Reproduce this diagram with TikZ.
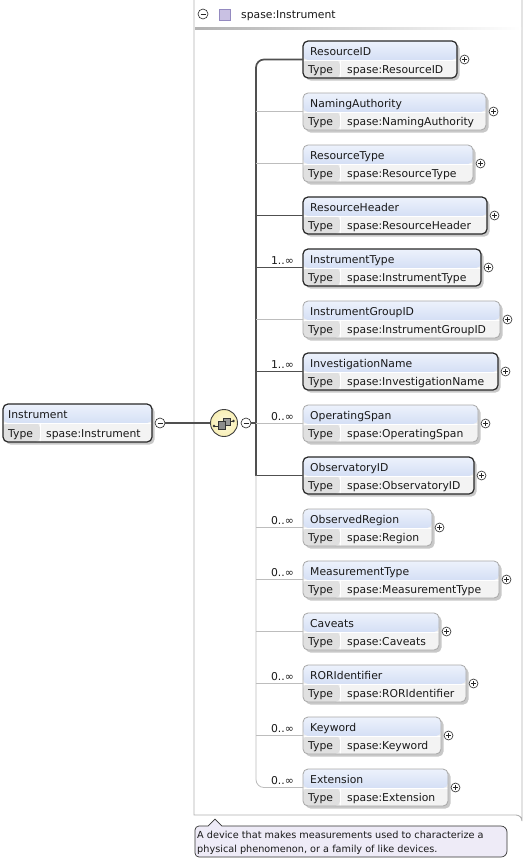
\documentclass[tikz,border=0pt]{standalone}
\usepackage{fontspec}
\setmainfont{DejaVu Sans}
\usetikzlibrary{calc}
\definecolor{hdtop}{HTML}{EDF2FC}
\definecolor{hdbot}{HTML}{BDCEEE}
\definecolor{rowL}{HTML}{E0E0E0}
\definecolor{rowR}{HTML}{F3F3F3}
\definecolor{darkb}{HTML}{282828}
\definecolor{lightb}{HTML}{A8A8A8}
\definecolor{thinc}{HTML}{BDBDBD}
\definecolor{thickc}{HTML}{505050}
\definecolor{contb}{HTML}{B0B0B0}
\definecolor{shad}{HTML}{C8C8C8}
\definecolor{annf}{HTML}{EEEBF7}
\definecolor{seqf}{HTML}{F8EFB4}
\definecolor{lav}{HTML}{C9C1E3}
\definecolor{lavb}{HTML}{948AC0}
\newcommand{\ftx}{\fontsize{10.8}{13}\selectfont}
\newcommand{\fta}{\fontsize{9.7}{12}\selectfont}
\newcommand{\pbc}{path picture bounding box.center}
\tikzset{
 elbox/.style={rounded corners=5pt, minimum height=37pt, inner sep=0pt, outer sep=0pt, anchor=north west, fill=rowR,
   path picture={
     \fill[top color=hdtop, bottom color=hdbot] (path picture bounding box.north west) rectangle ([yshift=-19pt]path picture bounding box.north east);
     \fill[rowL] ([yshift=-19pt]path picture bounding box.north west) rectangle ([xshift=37pt]path picture bounding box.south west);
     \draw[white, line width=0.9pt] ([yshift=-19pt]path picture bounding box.north west) -- ([yshift=-19pt]path picture bounding box.north east);
     \draw[white, line width=0.9pt] ([xshift=37pt,yshift=-19pt]path picture bounding box.north west) -- ([xshift=37pt]path picture bounding box.south west);
   }},
 mand/.style={elbox, draw=darkb, line width=1.2pt},
 opt/.style={elbox, draw=lightb, line width=0.8pt},
 txt/.style={font=\ftx, inner sep=0pt, anchor=base west, text=black!90},
 card/.style={font=\ftx, inner sep=0pt, anchor=base east, text=black!90},
 anntxt/.style={font=\fta, inner sep=0pt, anchor=base west, text=black!90},
 plusc/.style={circle, draw=black!85, fill=white, minimum size=9pt, inner sep=0pt, line width=0.6pt,
   path picture={\draw[line width=0.6pt] ([xshift=-2.3pt]\pbc) -- ([xshift=2.3pt]\pbc);
                 \draw[line width=0.6pt] ([yshift=-2.3pt]\pbc) -- ([yshift=2.3pt]\pbc);}},
 minusc/.style={circle, draw=black!85, fill=white, minimum size=10pt, inner sep=0pt, line width=0.6pt,
   path picture={\draw[line width=0.7pt] ([xshift=-2.5pt]\pbc) -- ([xshift=2.5pt]\pbc);}},
 thk/.style={draw=thickc, line width=1.7pt},
 thn/.style={draw=thinc, line width=0.8pt},
}
\newcommand{\elem}[7]{%
 \fill[shad, rounded corners=5pt] (305.5,#2+2.5) rectangle (305.5+#3,#2+39.5);
 \node[#6, minimum width=#3pt] (#1) at (303,#2) {};
 \node[txt] (#1t) at (310,#2+14.5) {#4};
 \node[txt] (#1k) at (308,#2+32.5) {Type};
 \node[txt] (#1v) at (347,#2+32.5) {#5};
 \node[plusc] (#1p) at ($(#1.east)+(7.5pt,0pt)$) {};
 \if\relax\detokenize{#7}\relax\else\node[card] (#1c) at (294,#2+15) {#7};\fi
}
\begin{document}
\begin{tikzpicture}[x=1pt,y=-1pt]
\useasboundingbox (0,0) rectangle (525,862);
\fill[white] (0,0) rectangle (525,862);
% container
\draw[contb, line width=0.9pt] (194,-2) -- (194,815) -- (516,815) arc[start angle=-90,end angle=0,radius=6] -- (522,-2);
\fill[left color=black!30, right color=white] (195,27) rectangle (521,29.5);
\node[minusc] (hm) at (203,14) {};
\node[draw=lavb, fill=lav, minimum size=11pt, inner sep=0pt, line width=0.5pt] (hsq) at (224.5,14.5) {};
\node[txt] (htxt) at (241,18.5) {spase:Instrument};
% elements
\elem{rid}{41}{154}{ResourceID}{spase:ResourceID}{mand}{}
\elem{nauth}{93}{183}{NamingAuthority}{spase:NamingAuthority}{opt}{}
\elem{rtype}{145}{170}{ResourceType}{spase:ResourceType}{opt}{}
\elem{rhead}{197}{184}{ResourceHeader}{spase:ResourceHeader}{mand}{}
\elem{itype}{249}{178}{InstrumentType}{spase:InstrumentType}{mand}{1..∞}
\elem{igid}{301}{197}{InstrumentGroupID}{spase:InstrumentGroupID}{opt}{}
\elem{iname}{353}{195}{InvestigationName}{spase:InvestigationName}{mand}{1..∞}
\elem{ospan}{405}{175}{OperatingSpan}{spase:OperatingSpan}{opt}{0..∞}
\elem{obs}{457}{171}{ObservatoryID}{spase:ObservatoryID}{mand}{}
\elem{oreg}{509}{129}{ObservedRegion}{spase:Region}{opt}{0..∞}
\elem{mtype}{561}{196}{MeasurementType}{spase:MeasurementType}{opt}{0..∞}
\elem{cav}{613}{136}{Caveats}{spase:Caveats}{opt}{}
\elem{ror}{665}{163}{RORIdentifier}{spase:RORIdentifier}{opt}{0..∞}
\elem{kw}{717}{138}{Keyword}{spase:Keyword}{opt}{0..∞}
\elem{ext}{769}{145}{Extension}{spase:Extension}{opt}{0..∞}
% left element
\fill[shad, rounded corners=5pt] (5.5,406.5) rectangle (154.5,444.5);
\node[mand, minimum width=149pt, minimum height=38pt] (instr) at (3,404) {};
\node[txt] (instrt) at (8,418) {Instrument};
\node[txt] (instrk) at (8,437) {Type};
\node[txt] (instrv) at (46,437) {spase:Instrument};
\node[minusc] (m1) at (160,423) {};
% sequence compositor
\node[circle, draw=black!75, line width=0.9pt, inner color=white!60!seqf, outer color=seqf, minimum size=27pt, inner sep=0pt,
  path picture={
   \draw[black!80, line width=0.7pt] ($(\pbc)+(-10pt,-3pt)$) -- ($(\pbc)+(-5pt,-3pt)$);
   \draw[black!80, line width=0.7pt] ($(\pbc)+(5pt,2pt)$) -- ($(\pbc)+(9pt,2pt)$);
   \fill[black!80] ($(\pbc)+(-10pt,-3pt)$) circle[radius=1.3pt];
   \fill[black!80] ($(\pbc)+(9.5pt,2pt)$) circle[radius=1.3pt];
   \draw[black!80, fill=black!40, line width=0.6pt] ($(\pbc)+(-1pt,-2pt)$) rectangle ($(\pbc)+(6pt,5pt)$);
   \draw[black!80, fill=black!45, line width=0.6pt] ($(\pbc)+(-6pt,-6pt)$) rectangle ($(\pbc)+(1.5pt,1.5pt)$);
  }] (seq) at (224,423) {};
\node[minusc] (m2) at (246,423) {};
\coordinate (sp) at (256,423);
% connectors
\draw[thk] (m1) -- (seq);
\draw[thk] (m2) -- (sp);
\draw[thk, rounded corners=8pt] (rid.west) -| (sp);
\draw[thk] (sp) |- (obs.west);
\draw[thn, rounded corners=8pt] (obs.west -| sp) |- (ext.west);
\foreach \n in {rhead,itype,iname}{\draw[thk] (\n.west) -- (\n.west -| sp);}
\foreach \n in {nauth,rtype,igid,ospan,oreg,mtype,cav,ror,kw}{\draw[thn] (\n.west) -- (\n.west -| sp);}
% annotation
\draw[black!80, fill=annf, line width=0.7pt] (208,826) -- (215,819) -- (222,826) [rounded corners=6pt] -- (507,826) -- (507,857) [rounded corners=4pt] -- (195,857) -- (195,826) -- (208,826);
\node[anntxt] (ann1) at (197,838) {A device that makes measurements used to characterize a};
\node[anntxt] (ann2) at (197,852) {physical phenomenon, or a family of like devices.};
\end{tikzpicture}
\end{document}
